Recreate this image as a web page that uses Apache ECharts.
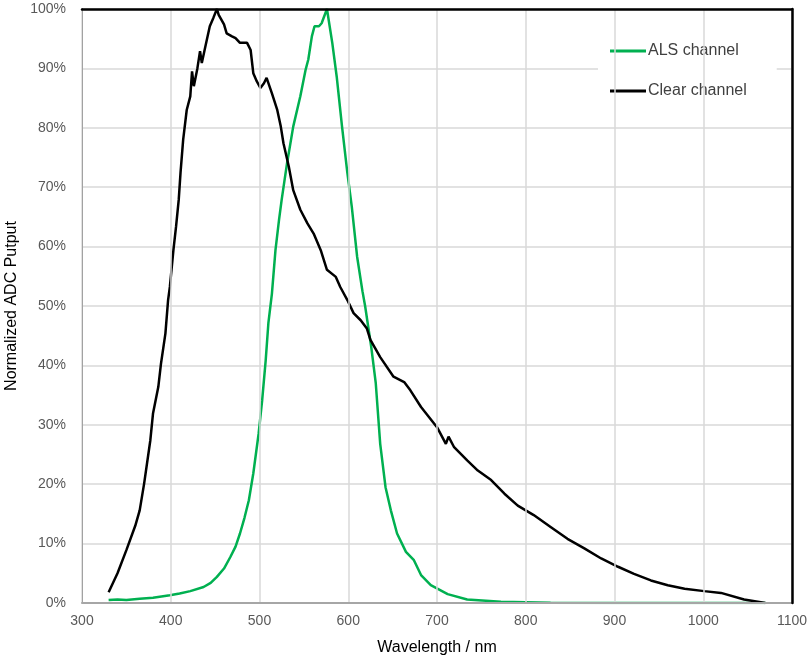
<!DOCTYPE html>
<html>
<head>
<meta charset="utf-8">
<script src="https://cdn.jsdelivr.net/npm/echarts@6/dist/echarts.min.js"></script>
<style>html,body{margin:0;padding:0;background:#fff;}#chart{width:809px;height:660px;}</style>
</head>
<body>
<div id="chart"></div>
<script>
const xTicks = [300, 400, 500, 600, 700, 800, 900, 1000, 1100];
const yTicks = [0, 10, 20, 30, 40, 50, 60, 70, 80, 90, 100];

const clearWavelength = [330,340,350,360,365,370,377,380,386,389,394,397,399,403,406,409,411,414,418,422,424,426,430,433,435,439,444,448,452,454,456,460,463,469,473,478,486,490,493,497,501,505,508,514,520,524,527,533,538,546,554,561,569,576,586,591,599,606,614,621,625,636,651,663,670,682,700,710,713,719,734,746,761,776,791,809,828,847,866,885,904,922,941,960,979,1001,1020,1046,1070];
const clearValues = [1.8,5,8.9,13,15.6,20.1,27.4,31.9,36.4,40.3,45.4,51,53.2,59.4,63.4,67.9,72.4,78,83,85.3,89.5,87,90,92.9,90.9,93.7,97.1,98.5,100,99,99.3,97.4,95.9,95.4,95.1,94.3,94.3,93.1,89.2,87.8,86.7,87.5,88.4,85.8,83,80.2,77.4,73.5,69.5,66.2,63.9,62.2,59.4,56.1,54.9,53.2,51,48.8,47.6,46.2,44.3,41.4,38.1,37.2,35.8,33,29.6,26.8,28,26.3,24,22.3,20.7,18.4,16.4,14.8,12.8,10.8,9.2,7.5,6.1,4.9,3.8,3,2.4,2,1.7,0.6,0];

const alsWavelength = [330,340,350,365,380,399,410,422,437,445,452,460,467,473,478,483,488,493,499,503,507,510,514,518,522,525,531,538,546,552,555,559,562,567,570,576,582,587,593,599,604,610,616,619,623,626,631,636,642,648,655,665,674,682,693,712,734,772,828,900,1000,1070];
const alsValues = [0.5,0.6,0.5,0.7,0.9,1.3,1.6,2,2.7,3.4,4.4,5.8,7.7,9.5,11.7,14.3,17.3,21.8,28.5,34.1,40.9,47.1,52.1,59.4,64.5,67.9,74,80.2,85.3,89.8,91.5,95.4,97.1,97.1,97.6,100,94.3,88.6,80.2,72.4,66.7,58.3,52.5,50,46,43,37,26.8,19.5,15.6,11.7,8.6,7.2,4.7,3,1.5,0.6,0.2,0.05,0.02,0,0];

const seriesNames = ['ALS channel', 'Clear channel'];
const xAxisName = 'Wavelength / nm';
const yAxisName = 'Normalized ADC Putput';

const zip = (xs, ys) => xs.map((x, i) => [x, ys[i]]);
const font = '"Liberation Sans", Arial, sans-serif';
const xMin = xTicks[0], xMax = xTicks[xTicks.length - 1];
const yMin = yTicks[0], yMax = yTicks[yTicks.length - 1];

const chart = echarts.init(document.getElementById('chart'), null, {renderer: 'canvas'});
chart.setOption({
  animation: false,
  backgroundColor: '#fff',
  grid: {left: 82, right: 17, top: 9, bottom: 57, show: false, containLabel: false, outerBoundsMode: 'none'},
  legend: {
    orient: 'vertical', left: 598, top: 33,
    backgroundColor: '#fff', padding: [10, 30, 10, 12],
    itemWidth: 36, itemHeight: 3, itemGap: 24,
    icon: 'rect',
    itemStyle: {borderWidth: 0},
    lineStyle: {width: 0, opacity: 0},
    textStyle: {fontFamily: font, fontSize: 16, color: '#404040', padding: [0, 0, 0, -3]},
    data: seriesNames
  },
  xAxis: [{
    type: 'value', min: xMin, max: xMax, interval: 100,
    name: xAxisName, nameLocation: 'middle', nameGap: 37,
    nameTextStyle: {fontFamily: font, fontSize: 16, color: '#000'},
    axisLine: {show: true, onZero: false, lineStyle: {color: '#a6a6a6', width: 2}},
    axisTick: {show: false},
    axisLabel: {fontFamily: font, fontSize: 14, color: '#595959', margin: 11, formatter: v => String(v)},
    splitLine: {show: true, lineStyle: {color: '#d9d9d9', width: 1.5}},
    z: 5
  }, {
    type: 'value', position: 'top', min: xMin, max: xMax, interval: 100,
    axisLine: {show: true, onZero: false, lineStyle: {color: '#000', width: 2.5}},
    axisTick: {show: false}, axisLabel: {show: false}, splitLine: {show: false}, z: 6
  }],
  yAxis: [{
    type: 'value', min: yMin, max: yMax, interval: 10,
    name: yAxisName, nameLocation: 'middle', nameGap: 57,
    nameTextStyle: {fontFamily: font, fontSize: 16, color: '#000'},
    axisLine: {show: true, onZero: false, lineStyle: {color: '#000', width: 1}},
    axisTick: {show: false},
    axisLabel: {fontFamily: font, fontSize: 14, color: '#595959', margin: 16, formatter: '{value}%'},
    splitLine: {show: true, lineStyle: {color: '#d9d9d9', width: 1.5}}
  }, {
    type: 'value', position: 'right', min: yMin, max: yMax, interval: 10,
    axisLine: {show: true, onZero: false, lineStyle: {color: '#000', width: 2.5}},
    axisTick: {show: false}, axisLabel: {show: false}, splitLine: {show: false}, z: 6
  }],
  series: [
    {name: seriesNames[0], type: 'line', data: zip(alsWavelength, alsValues), symbol: 'none', smooth: false,
     lineStyle: {color: '#00b050', width: 2.5}, itemStyle: {color: '#00b050'}, z: 3},
    {name: seriesNames[1], type: 'line', data: zip(clearWavelength, clearValues), symbol: 'none', smooth: false,
     lineStyle: {color: '#000', width: 2.5}, itemStyle: {color: '#000'}, z: 4}
  ]
});
</script>
</body>
</html>
